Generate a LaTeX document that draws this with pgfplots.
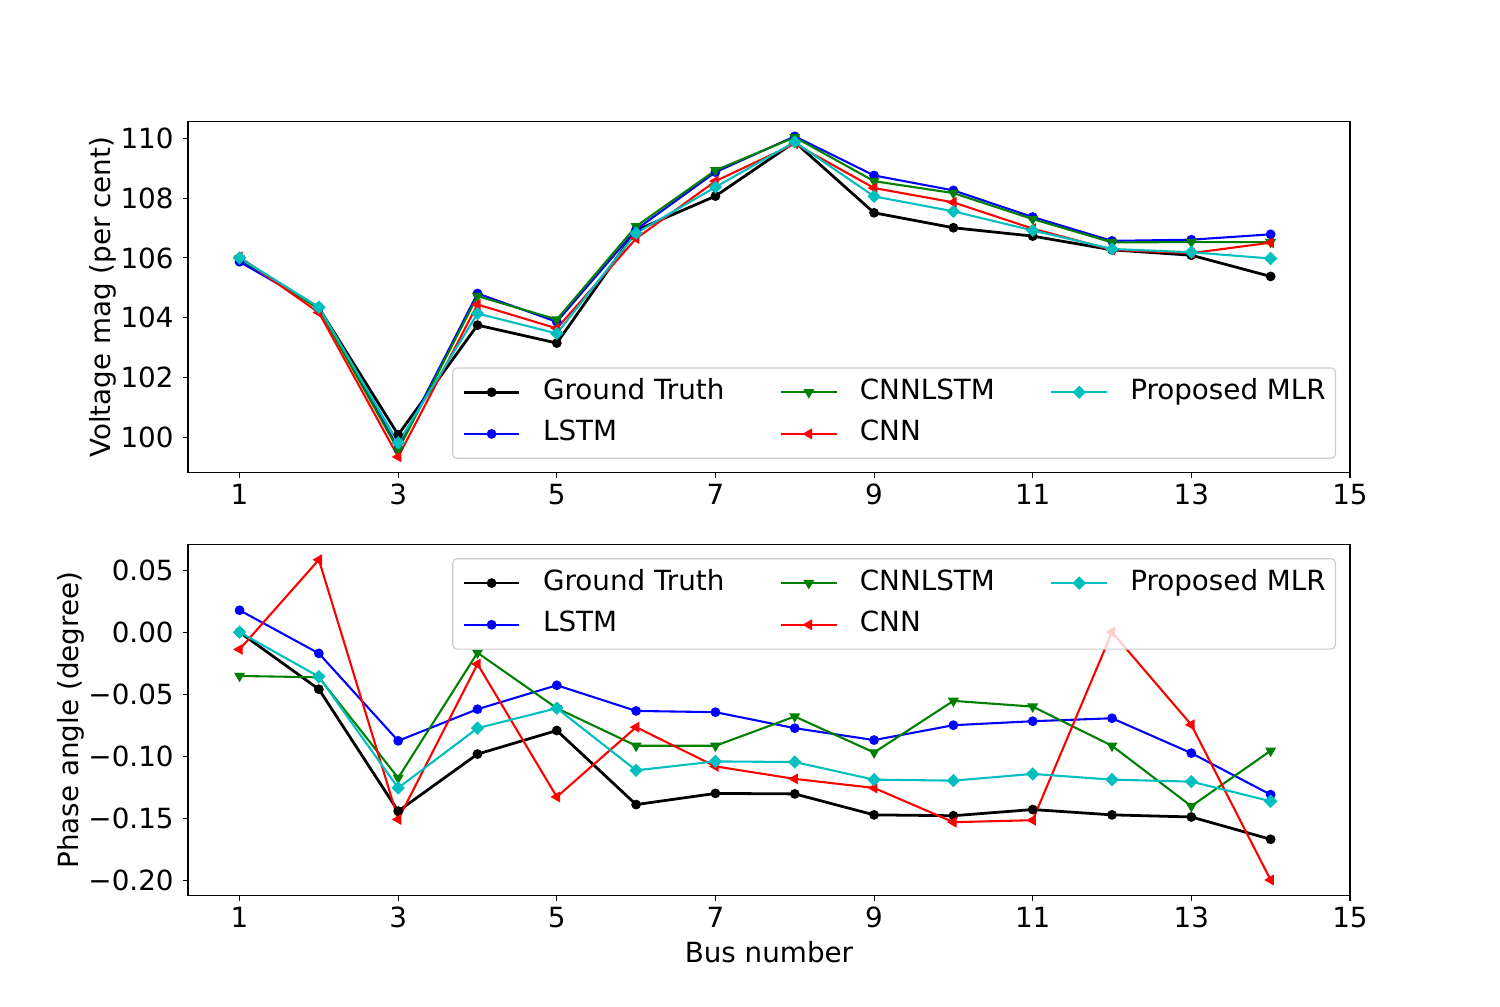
\documentclass[border=0pt]{standalone}
\usepackage{fontspec}
\setmainfont{DejaVu Sans}
\usepackage{pgfplots}
\pgfplotsset{compat=1.18}
\usepackage{pgfplotstable}
\definecolor{mplg}{rgb}{0,0.5,0}
\definecolor{mplc}{rgb}{0,0.75,0.75}
\newcommand\ff{\fontsize{20}{24}\selectfont}

\pgfplotstableread{
x gt lstm cnnlstm cnn mlr
1 105.98 105.87 105.98 106.03 106.00
2 104.32 104.35 104.30 104.17 104.35
3 100.08 99.63 99.57 99.34 99.81
4 103.75 104.81 104.72 104.44 104.14
5 103.15 103.86 103.94 103.64 103.47
6 106.92 106.95 107.06 106.65 106.83
7 108.07 108.87 108.93 108.57 108.37
8 109.88 110.07 110.04 109.82 109.88
9 107.51 108.76 108.57 108.34 108.06
10 107.01 108.26 108.17 107.86 107.56
11 106.73 107.37 107.30 106.98 106.92
12 106.27 106.57 106.52 106.27 106.30
13 106.09 106.61 106.53 106.16 106.19
14 105.38 106.79 106.53 106.51 105.98
}\volt

\pgfplotstableread{
x gt lstm cnnlstm cnn mlr
1 0.000 0.0177 -0.0353 -0.0139 0.000
2 -0.046 -0.0171 -0.0364 0.0584 -0.0359
3 -0.1443 -0.0876 -0.1175 -0.151 -0.1256
4 -0.0983 -0.0621 -0.0166 -0.0257 -0.0774
5 -0.0793 -0.0428 -0.0613 -0.1328 -0.0613
6 -0.139 -0.0635 -0.0916 -0.0766 -0.1114
7 -0.1300 -0.0645 -0.0916 -0.1082 -0.1042
8 -0.1304 -0.0774 -0.068 -0.1183 -0.1047
9 -0.1473 -0.087 -0.097 -0.1256 -0.1189
10 -0.148 -0.075 -0.0554 -0.1532 -0.1197
11 -0.143 -0.0718 -0.060 -0.1516 -0.1143
12 -0.1473 -0.0694 -0.0916 0.000 -0.1189
13 -0.149 -0.0975 -0.1403 -0.0747 -0.1205
14 -0.167 -0.131 -0.0956 -0.1998 -0.1363
}\phase

\pgfplotsset{
  common/.style={
    scale only axis,
    width=836.6pt,
    anchor=south west,
    xmin=0.35, xmax=15,
    xtick={1,3,...,15},
    xticklabels={1,3,5,7,9,11,13,15},
    xtick pos=bottom, ytick pos=left,
    tick align=outside,
    major tick length=3.5pt,
    every tick/.style={black, line width=0.8pt},
    axis line style={line width=0.8pt},
    every tick label/.append style={font=\ff},
    xticklabel style={yshift=2pt},
    label style={font=\ff},
    ylabel style={yshift=-10.5pt},
    xlabel style={yshift=4pt},
    transpose legend,
    legend columns=2,
    legend cell align=left,
    legend style={font=\ff, fill=white, fill opacity=0.8, draw opacity=1, text opacity=1,
      draw=black!20, line width=0.8pt, rounded corners=3pt,
      inner xsep=7pt, inner ysep=7.5pt,
      row sep=10pt,
      nodes={inner sep=0pt, text height=15pt, text depth=5pt, anchor=west},
      /tikz/every odd column/.append style={column sep=16pt},
      /tikz/every even column/.append style={column sep=40pt}},
    legend image code/.code={\draw[##1, fill opacity=1, draw opacity=1, mark repeat=2, mark phase=2] plot coordinates {(0pt,0pt) (20pt,0pt) (40pt,0pt)};},
    cycle list={
      {black, line width=2pt, mark=*, mark size=3pt, mark options={line width=1pt, solid}},
      {blue, line width=1.5pt, mark=*, mark size=3pt, mark options={line width=1pt, solid}},
      {mplg, line width=1.5pt, mark=triangle*, mark size=3.6pt, mark options={rotate=180, line width=1pt, solid}},
      {red, line width=1.5pt, mark=triangle*, mark size=3.6pt, mark options={rotate=90, line width=1pt, solid}},
      {mplc, line width=1.5pt, mark=square*, mark size=2.9pt, mark options={rotate=45, line width=1pt, solid}}
    },
  }
}

\begin{document}
\ff
\begin{tikzpicture}
\path[use as bounding box] (0pt,0pt) rectangle (1080pt,725.04pt);

\begin{axis}[common,
  at={(135.36pt,384.7pt)},
  height=252.7pt,
  ymin=98.81, ymax=110.56,
  ytick={100,102,...,110},
  yticklabels={100,102,104,106,108,110},
  ylabel={Voltage mag (per cent)},
  legend style={at={(0.988,0.0396)}, anchor=south east},
]
\addplot table[x=x,y=gt] {\volt};
\addlegendentry{Ground Truth}
\addplot table[x=x,y=lstm] {\volt};
\addlegendentry{LSTM}
\addplot table[x=x,y=cnnlstm] {\volt};
\addlegendentry{CNNLSTM}
\addplot table[x=x,y=cnn] {\volt};
\addlegendentry{CNN}
\addplot table[x=x,y=mlr] {\volt};
\addlegendentry{Proposed MLR}
\end{axis}

\begin{axis}[common,
  at={(135.36pt,80.1pt)},
  height=253pt,
  ymin=-0.2125, ymax=0.0708,
  ytick={-0.20,-0.15,-0.10,-0.05,0,0.05},
  yticklabels={−0.20,−0.15,−0.10,−0.05,0.00,0.05},
  ylabel={Phase angle (degree)},
  xlabel={Bus number},
  legend style={at={(0.988,0.9605)}, anchor=north east},
]
\addplot table[x=x,y=gt] {\phase};
\addlegendentry{Ground Truth}
\addplot table[x=x,y=lstm] {\phase};
\addlegendentry{LSTM}
\addplot table[x=x,y=cnnlstm] {\phase};
\addlegendentry{CNNLSTM}
\addplot table[x=x,y=cnn] {\phase};
\addlegendentry{CNN}
\addplot table[x=x,y=mlr] {\phase};
\addlegendentry{Proposed MLR}
\end{axis}
\end{tikzpicture}
\end{document}
